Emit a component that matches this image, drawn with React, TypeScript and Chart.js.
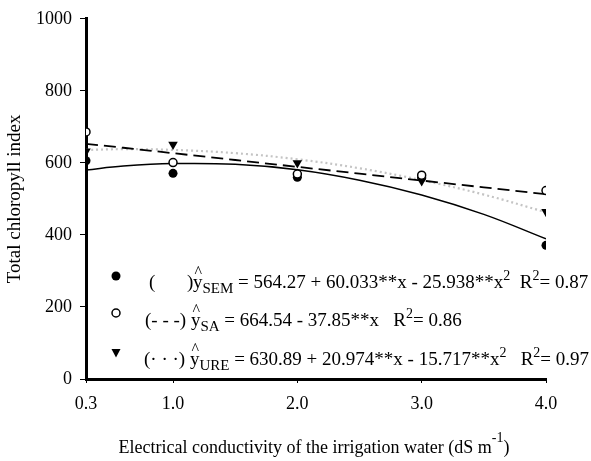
import React, { useEffect, useRef } from "react";
import { Chart, registerables } from "chart.js";

Chart.register(...registerables);

// ---------- data ----------
const xLevels = [0.3, 1.0, 2.0, 3.0, 4.0];
const xTickLabels = ["0.3", "1.0", "2.0", "3.0", "4.0"];
const yMin = 0;
const yMax = 1000;
const yStep = 200;

const semObserved = [606, 571, 560, 560, 371];
const saObserved = [686, 601, 569, 566, 523];
const ureObserved = [632, 651, 600, 550, 464];

const fitX = [0.3, 0.6, 1.0, 1.5, 2.0, 2.5, 3.0, 3.5, 4.0];
const semFit = [580, 591, 598, 596, 581, 552, 511, 457, 389];
const saFit = [653, 642, 627, 608, 589, 570, 551, 532, 513];
const ureFit = [636, 638, 636, 627, 610, 585, 552, 512, 463];

const yTitle = "Total chloropyll index";
const xTitleMain = "Electrical conductivity of the irrigation water (dS m";
const xTitleSup = "-1";
const xTitleEnd = ")";

type Seg = { t: string; kind?: "main" | "sub" | "sup" | "hat"; at?: number };
const legendRows: { marker: "filled" | "open" | "tri"; segs: Seg[] }[] = [
  {
    marker: "filled",
    segs: [
      { t: "(", at: 0 },
      { t: ")", at: 38 },
      { t: "y", kind: "hat", at: 44 },
      { t: "SEM", kind: "sub" },
      { t: " = 564.27 + 60.033**x - 25.938**x" },
      { t: "2", kind: "sup" },
      { t: "  R" },
      { t: "2", kind: "sup" },
      { t: "= 0.87" },
    ],
  },
  {
    marker: "open",
    segs: [
      { t: "(- - -) ", at: -4 },
      { t: "y", kind: "hat" },
      { t: "SA", kind: "sub" },
      { t: " = 664.54 - 37.85**x   R" },
      { t: "2", kind: "sup" },
      { t: "= 0.86" },
    ],
  },
  {
    marker: "tri",
    segs: [
      { t: "(\u00b7 \u00b7 \u00b7) ", at: -5 },
      { t: "y", kind: "hat" },
      { t: "URE", kind: "sub" },
      { t: " = 630.89 + 20.974**x - 15.717**x" },
      { t: "2", kind: "sup" },
      { t: "   R" },
      { t: "2", kind: "sup" },
      { t: "= 0.97" },
    ],
  },
];

// ---------- styles ----------
const FAM = '"Liberation Serif", "Times New Roman", serif';
const LEG_MAIN = 19;
const LEG_SUB = 15;
const LEG_SUP = 14;
const LEG_X0 = 149;
const LEG_MARKER_X = 116;
const LEG_BASELINES = [288, 326, 365];
const LEG_MARKER_Y = [276, 313, 353];

function drawSegs(ctx: CanvasRenderingContext2D, x0: number, base: number, segs: Seg[]) {
  let cx = x0;
  ctx.textAlign = "left";
  ctx.textBaseline = "alphabetic";
  for (const s of segs) {
    if (s.at !== undefined) cx = x0 + s.at;
    const kind = s.kind || "main";
    if (kind === "main") {
      ctx.font = `${LEG_MAIN}px ${FAM}`;
      ctx.fillText(s.t, cx, base);
      cx += ctx.measureText(s.t).width;
    } else if (kind === "sub") {
      ctx.font = `${LEG_SUB}px ${FAM}`;
      ctx.fillText(s.t, cx, base + 5);
      cx += ctx.measureText(s.t).width;
    } else if (kind === "sup") {
      ctx.font = `${LEG_SUP}px ${FAM}`;
      ctx.fillText(s.t, cx, base - 8);
      cx += ctx.measureText(s.t).width;
    } else {
      ctx.font = `${LEG_MAIN}px ${FAM}`;
      const w = ctx.measureText(s.t).width;
      ctx.fillText(s.t, cx, base);
      ctx.font = `16px ${FAM}`;
      ctx.textAlign = "center";
      ctx.fillText("^", cx + w / 2 + 0.5, base - 11);
      ctx.textAlign = "left";
      cx += w;
    }
  }
}

const overlayPlugin = {
  id: "overlay",
  afterDraw(chart: any) {
    const ctx: CanvasRenderingContext2D = chart.ctx;
    ctx.save();
    ctx.fillStyle = "#000";
    ctx.strokeStyle = "#000";
    legendRows.forEach((row, i) => {
      const mx = LEG_MARKER_X;
      const my = LEG_MARKER_Y[i];
      ctx.beginPath();
      if (row.marker === "filled") {
        ctx.arc(mx, my, 4.5, 0, Math.PI * 2);
        ctx.fill();
      } else if (row.marker === "open") {
        ctx.lineWidth = 1.5;
        ctx.arc(mx, my, 4, 0, Math.PI * 2);
        ctx.fillStyle = "#fff";
        ctx.fill();
        ctx.stroke();
        ctx.fillStyle = "#000";
      } else {
        ctx.moveTo(mx - 4.5, my - 4);
        ctx.lineTo(mx + 4.5, my - 4);
        ctx.lineTo(mx, my + 4.5);
        ctx.closePath();
        ctx.fill();
      }
      drawSegs(ctx, LEG_X0, LEG_BASELINES[i], row.segs);
    });

    // x-axis title with superscript
    const ca = chart.chartArea;
    ctx.font = `18px ${FAM}`;
    const w1 = ctx.measureText(xTitleMain).width;
    const w3 = ctx.measureText(xTitleEnd).width;
    ctx.font = `14px ${FAM}`;
    const w2 = ctx.measureText(xTitleSup).width;
    const total = w1 + w2 + w3;
    let x = (ca.left + ca.right) / 2 - 2 - total / 2;
    const base = 453;
    ctx.textAlign = "left";
    ctx.textBaseline = "alphabetic";
    ctx.font = `18px ${FAM}`;
    ctx.fillText(xTitleMain, x, base);
    x += w1;
    ctx.font = `14px ${FAM}`;
    ctx.fillText(xTitleSup, x, base - 11);
    x += w2;
    ctx.font = `18px ${FAM}`;
    ctx.fillText(xTitleEnd, x, base);
    ctx.restore();
  },
};

export default function App() {
  const ref = useRef<HTMLCanvasElement | null>(null);

  useEffect(() => {
    if (!ref.current) return;
    Chart.defaults.font.family = FAM;
    Chart.defaults.color = "#000";

    const pts = (ys: number[], xs: number[]) => ys.map((y, i) => ({ x: xs[i], y }));

    const chart = new Chart(ref.current, {
      type: "scatter",
      data: {
        datasets: [
          {
            label: "SEM",
            data: pts(semObserved, xLevels),
            pointStyle: "circle",
            pointRadius: 4.5,
            backgroundColor: "#000",
            borderColor: "#000",
            borderWidth: 0,
            order: 3,
          },
          {
            label: "URE",
            data: pts(ureObserved, xLevels),
            pointStyle: "triangle",
            rotation: 180,
            pointRadius: 5.5,
            backgroundColor: "#000",
            borderColor: "#000",
            borderWidth: 0,
            order: 2,
          },
          {
            label: "SA",
            data: pts(saObserved, xLevels),
            pointStyle: "circle",
            pointRadius: 4,
            backgroundColor: "#fff",
            borderColor: "#000",
            borderWidth: 1.5,
            order: 1,
          },
          {
            label: "URE fit",
            data: pts(ureFit, fitX),
            showLine: true,
            pointRadius: 0,
            borderColor: "#c4c4c4",
            borderWidth: 2.2,
            borderDash: [2, 3],
            tension: 0.4,
            order: 6,
          },
          {
            label: "SA fit",
            data: pts(saFit, fitX),
            showLine: true,
            pointRadius: 0,
            borderColor: "#000",
            borderWidth: 1.8,
            borderDash: [12, 6],
            tension: 0,
            order: 5,
          },
          {
            label: "SEM fit",
            data: pts(semFit, fitX),
            showLine: true,
            pointRadius: 0,
            borderColor: "#000",
            borderWidth: 1.5,
            tension: 0.4,
            order: 4,
          },
        ],
      },
      options: {
        animation: false,
        responsive: false,
        devicePixelRatio: 1,
        layout: { padding: { left: 0, right: 45, top: 11.5, bottom: 0 } },
        plugins: {
          legend: { display: false },
          tooltip: { enabled: false },
          title: { display: false },
        },
        scales: {
          x: {
            type: "linear",
            min: xLevels[0],
            max: xLevels[xLevels.length - 1],
            afterBuildTicks: (scale: any) => {
              scale.ticks = xLevels.map((v) => ({ value: v }));
            },
            afterFit: (scale: any) => {
              scale.height = 82;
            },
            ticks: {
              font: { size: 18, family: FAM },
              color: "#000",
              padding: 10,
              maxRotation: 0,
              autoSkip: false,
              callback: (v: any) => {
                const i = xLevels.indexOf(Number(v));
                return i >= 0 ? xTickLabels[i] : "";
              },
            },
            grid: {
              drawOnChartArea: false,
              drawTicks: true,
              tickLength: 4,
              color: "#000",
              lineWidth: 1,
            },
            border: { display: true, color: "#000", width: 3 },
          },
          y: {
            type: "linear",
            min: yMin,
            max: yMax,
            afterFit: (scale: any) => {
              scale.width = 86;
            },
            ticks: {
              stepSize: yStep,
              font: { size: 18, family: FAM },
              color: "#000",
              padding: 8,
              callback: (v: any) => String(v),
            },
            grid: {
              drawOnChartArea: false,
              drawTicks: true,
              tickLength: 6,
              color: "#000",
              lineWidth: 1,
            },
            border: { display: true, color: "#000", width: 3 },
            title: {
              display: true,
              text: yTitle,
              font: { size: 19, family: FAM },
              color: "#000",
              padding: 4,
            },
          },
        },
      },
      plugins: [overlayPlugin],
    } as any);

    return () => chart.destroy();
  }, []);

  return (
    <div style={{ position: "absolute", left: 0, top: 0, width: 591, height: 461, background: "#fff" }}>
      <canvas ref={ref} width={591} height={461} style={{ display: "block" }} />
    </div>
  );
}
